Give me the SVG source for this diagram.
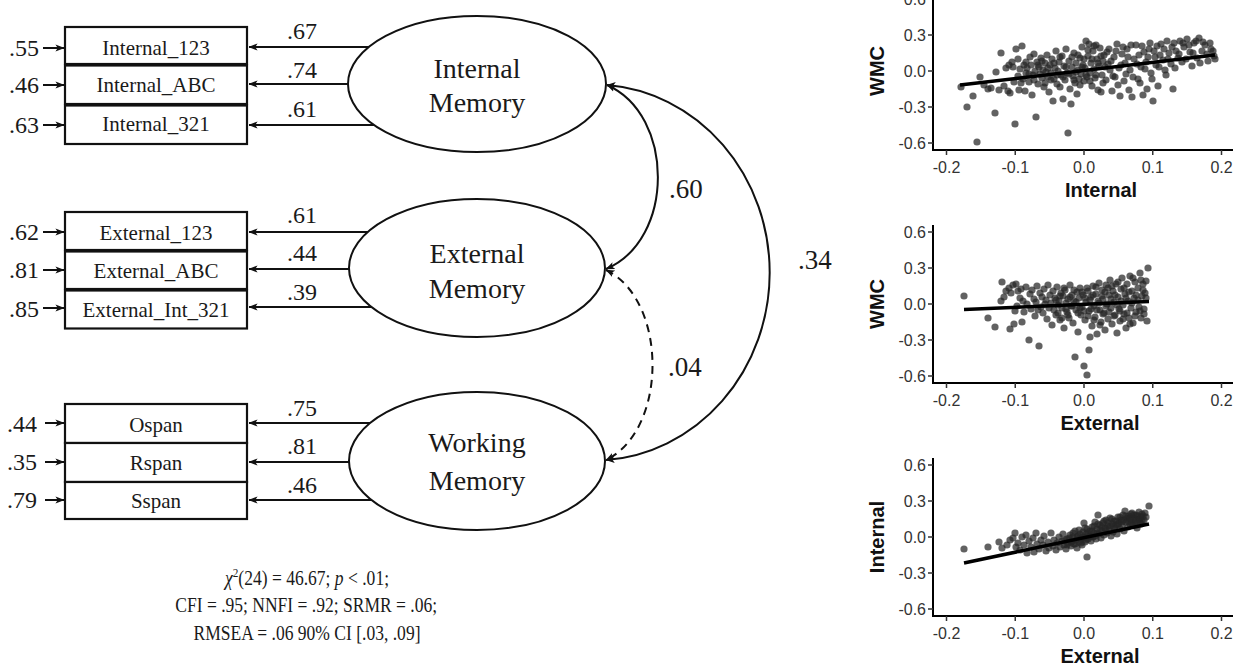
<svg xmlns="http://www.w3.org/2000/svg" width="1238" height="667" viewBox="0 0 1238 667">
<style>
.serif{font-family:"Liberation Serif","Times New Roman",serif;fill:#1a1a1a}
.box{fill:#fff;stroke:#111;stroke-width:2.2}
.lat{fill:#fff;stroke:#111;stroke-width:2}
.con{stroke:#111;stroke-width:2;fill:none}
.bl{font-size:21px;text-anchor:middle}
.co{font-size:24px;text-anchor:middle}
.er{font-size:24px}
.ll{font-size:28px;text-anchor:middle}
.cv{font-size:27px}
.ax{fill:none;stroke:#000;stroke-width:2}
.tk{fill:none;stroke:#333;stroke-width:1.5}
.tl{font-family:"Liberation Sans",Arial,sans-serif;font-size:16px;fill:#333}
.at{font-family:"Liberation Sans",Arial,sans-serif;font-size:20px;font-weight:bold;fill:#111;text-anchor:middle}
.pt circle{fill:#262626;fill-opacity:.72}
.reg{stroke:#000;stroke-width:3.5}
</style>
<defs>
<marker id="ah" viewBox="0 0 10 10" refX="9.5" refY="5" markerWidth="9" markerHeight="9" markerUnits="userSpaceOnUse" orient="auto-start-reverse">
<path d="M0,1 L10,5 L0,9 L2.5,5 z" fill="#111"/>
</marker>
</defs>

<g id="connectors">
<line class="con" x1="420" y1="47" x2="249" y2="47" marker-end="url(#ah)"/>
<line class="con" x1="420" y1="84" x2="249" y2="84" marker-end="url(#ah)"/>
<line class="con" x1="420" y1="125" x2="249" y2="125" marker-end="url(#ah)"/>
<line class="con" x1="420" y1="232" x2="249" y2="232" marker-end="url(#ah)"/>
<line class="con" x1="420" y1="269" x2="249" y2="269" marker-end="url(#ah)"/>
<line class="con" x1="420" y1="307" x2="249" y2="307" marker-end="url(#ah)"/>
<line class="con" x1="420" y1="423" x2="249" y2="423" marker-end="url(#ah)"/>
<line class="con" x1="420" y1="462" x2="249" y2="462" marker-end="url(#ah)"/>
<line class="con" x1="420" y1="500" x2="249" y2="500" marker-end="url(#ah)"/>
<line class="con" stroke-width="1.6" x1="43" y1="48" x2="64" y2="48" marker-end="url(#ah)"/>
<line class="con" stroke-width="1.6" x1="43" y1="85" x2="64" y2="85" marker-end="url(#ah)"/>
<line class="con" stroke-width="1.6" x1="43" y1="125" x2="64" y2="125" marker-end="url(#ah)"/>
<line class="con" stroke-width="1.6" x1="43" y1="232" x2="64" y2="232" marker-end="url(#ah)"/>
<line class="con" stroke-width="1.6" x1="43" y1="270" x2="64" y2="270" marker-end="url(#ah)"/>
<line class="con" stroke-width="1.6" x1="43" y1="308" x2="64" y2="308" marker-end="url(#ah)"/>
<line class="con" stroke-width="1.6" x1="45" y1="423" x2="64" y2="423" marker-end="url(#ah)"/>
<line class="con" stroke-width="1.6" x1="45" y1="462" x2="64" y2="462" marker-end="url(#ah)"/>
<line class="con" stroke-width="1.6" x1="45" y1="500" x2="64" y2="500" marker-end="url(#ah)"/>
<path class="con" d="M607,85 C675,115 675,240 606,269" marker-start="url(#ah)" marker-end="url(#ah)"/>
<path class="con" d="M607,85 A176 188 0 0 1 606,460" marker-start="url(#ah)" marker-end="url(#ah)"/>
<path class="con" stroke-dasharray="8,6" d="M606,270 C668,300 668,430 606,460" marker-start="url(#ah)" marker-end="url(#ah)"/>
<text class="serif co" x="302" y="39">.67</text>
<text class="serif co" x="302" y="78">.74</text>
<text class="serif co" x="302" y="117">.61</text>
<text class="serif co" x="302" y="223">.61</text>
<text class="serif co" x="302" y="261">.44</text>
<text class="serif co" x="302" y="300">.39</text>
<text class="serif co" x="302" y="416">.75</text>
<text class="serif co" x="302" y="454">.81</text>
<text class="serif co" x="302" y="493">.46</text>
<text class="serif cv" x="669" y="198">.60</text>
<text class="serif cv" x="798" y="269">.34</text>
<text class="serif cv" x="668" y="376">.04</text>
</g>

<g id="errors">
<text class="serif er" x="9" y="56">.55</text>
<text class="serif er" x="9" y="93">.46</text>
<text class="serif er" x="9" y="133">.63</text>
<text class="serif er" x="9" y="240">.62</text>
<text class="serif er" x="9" y="278">.81</text>
<text class="serif er" x="9" y="317">.85</text>
<text class="serif er" x="7" y="432">.44</text>
<text class="serif er" x="7" y="470">.35</text>
<text class="serif er" x="7" y="508">.79</text>
</g>

<g id="Internal_123"><rect class="box" x="65" y="27" width="182" height="37"/><text class="serif bl" x="156" y="55">Internal_123</text></g>
<g id="Internal_ABC"><rect class="box" x="65" y="65.5" width="182" height="38.5"/><text class="serif bl" x="156" y="92">Internal_ABC</text></g>
<g id="Internal_321"><rect class="box" x="65" y="105.5" width="182" height="38.5"/><text class="serif bl" x="156" y="131">Internal_321</text></g>

<g id="External_123"><rect class="box" x="65" y="212" width="182" height="38"/><text class="serif bl" x="156" y="240">External_123</text></g>
<g id="External_ABC"><rect class="box" x="65" y="251.5" width="182" height="37.5"/><text class="serif bl" x="156" y="278">External_ABC</text></g>
<g id="External_Int_321"><rect class="box" x="65" y="290.5" width="182" height="38"/><text class="serif bl" x="156" y="317">External_Int_321</text></g>

<g id="Ospan"><rect class="box" x="65" y="404" width="182" height="39"/><text class="serif bl" x="156" y="432">Ospan</text></g>
<g id="Rspan"><rect class="box" x="65" y="443" width="182" height="39"/><text class="serif bl" x="156" y="470">Rspan</text></g>
<g id="Sspan"><rect class="box" x="65" y="482" width="182" height="37"/><text class="serif bl" x="156" y="508">Sspan</text></g>

<g id="InternalMemory"><ellipse class="lat" cx="477" cy="84" rx="129" ry="68"/><text class="serif ll" x="477" y="78">Internal</text><text class="serif ll" x="477" y="112">Memory</text></g>
<g id="ExternalMemory"><ellipse class="lat" cx="477" cy="268" rx="128" ry="69"/><text class="serif ll" x="477" y="263">External</text><text class="serif ll" x="477" y="298">Memory</text></g>
<g id="WorkingMemory"><ellipse class="lat" cx="477" cy="461" rx="128" ry="69"/><text class="serif ll" x="477" y="452">Working</text><text class="serif ll" x="477" y="490">Memory</text></g>

<g id="fit" class="serif" font-size="21" text-anchor="middle" transform="translate(307,0) scale(0.835,1)">
<text x="0" y="585"><tspan font-style="italic">χ</tspan><tspan font-size="13.5" dy="-8">2</tspan><tspan dy="8">(24) = 46.67; </tspan><tspan font-style="italic">p</tspan> &lt; .01;</text>
<text x="-1" y="612">CFI = .95; NNFI = .92; SRMR = .06;</text>
<text x="0" y="640">RMSEA = .06 90% CI [.03, .09]</text>
</g>

<g id="plot1" transform="translate(1084,71)">
<path class="ax" d="M-151,-79 V79 H149"/>
<path class="tk" d="M-151,-72h-5M-151,-36h-5M-151,0h-5M-151,36h-5M-151,72h-5M-137.5,79v5M-68.75,79v5M0,79v5M68.75,79v5M137.5,79v5"/>
<g class="tl" text-anchor="end"><text x="-158" y="-66.5">0.6</text><text x="-158" y="-30.5">0.3</text><text x="-158" y="5.5">0.0</text><text x="-158" y="41.5">-0.3</text><text x="-158" y="77.5">-0.6</text></g>
<g class="tl" text-anchor="middle"><text x="-137.5" y="102">-0.2</text><text x="-68.75" y="102">-0.1</text><text x="0" y="102">0.0</text><text x="68.75" y="102">0.1</text><text x="137.5" y="102">0.2</text></g>
<text class="at" x="17" y="126">Internal</text>
<text class="at" transform="translate(-207,0) rotate(-90)" y="7">WMC</text>
<g class="pt">
<circle cx="-123" cy="16" r="3.6"/><circle cx="-117" cy="36" r="3.6"/><circle cx="-111" cy="25" r="3.6"/><circle cx="-107" cy="71" r="3.6"/><circle cx="-104" cy="6" r="3.6"/><circle cx="-100" cy="14" r="3.6"/><circle cx="-96" cy="18" r="3.6"/><circle cx="-93" cy="17" r="3.6"/><circle cx="-89" cy="42" r="3.6"/><circle cx="-88" cy="1" r="3.6"/><circle cx="-85" cy="19" r="3.6"/><circle cx="-83" cy="-18" r="3.6"/><circle cx="-80" cy="15" r="3.6"/><circle cx="-78" cy="-3" r="3.6"/><circle cx="-76" cy="20" r="3.6"/><circle cx="-75" cy="-6" r="3.6"/><circle cx="-74" cy="22" r="3.6"/><circle cx="-72" cy="-9" r="3.6"/><circle cx="-71" cy="-4" r="3.6"/><circle cx="-70" cy="11" r="3.6"/><circle cx="-69" cy="53" r="3.6"/><circle cx="-68" cy="-22" r="3.6"/><circle cx="-66" cy="5" r="3.6"/><circle cx="-65" cy="19" r="3.6"/><circle cx="-64" cy="-2" r="3.6"/><circle cx="-62" cy="-25" r="3.6"/><circle cx="-61" cy="8" r="3.6"/><circle cx="-60" cy="-6" r="3.6"/><circle cx="-59" cy="20" r="3.6"/><circle cx="-58" cy="2" r="3.6"/><circle cx="-57" cy="-3" r="3.6"/><circle cx="-55" cy="11" r="3.6"/><circle cx="-54" cy="-14" r="3.6"/><circle cx="-53" cy="-6" r="3.6"/><circle cx="-52" cy="24" r="3.6"/><circle cx="-51" cy="4" r="3.6"/><circle cx="-50" cy="-17" r="3.6"/><circle cx="-49" cy="0" r="3.6"/><circle cx="-48" cy="46" r="3.6"/><circle cx="-47" cy="-9" r="3.6"/><circle cx="-46" cy="13" r="3.6"/><circle cx="-45" cy="-4" r="3.6"/><circle cx="-44" cy="3" r="3.6"/><circle cx="-43" cy="-13" r="3.6"/><circle cx="-42" cy="7" r="3.6"/><circle cx="-41" cy="-1" r="3.6"/><circle cx="-40" cy="16" r="3.6"/><circle cx="-39" cy="-8" r="3.6"/><circle cx="-38" cy="1" r="3.6"/><circle cx="-37" cy="-16" r="3.6"/><circle cx="-36" cy="6" r="3.6"/><circle cx="-35" cy="21" r="3.6"/><circle cx="-34" cy="-6" r="3.6"/><circle cx="-33" cy="2" r="3.6"/><circle cx="-32" cy="-12" r="3.6"/><circle cx="-31" cy="30" r="3.6"/><circle cx="-30" cy="8" r="3.6"/><circle cx="-29" cy="-3" r="3.6"/><circle cx="-28" cy="-20" r="3.6"/><circle cx="-27" cy="13" r="3.6"/><circle cx="-26" cy="0" r="3.6"/><circle cx="-25" cy="-9" r="3.6"/><circle cx="-24" cy="16" r="3.6"/><circle cx="-23" cy="4" r="3.6"/><circle cx="-22" cy="-15" r="3.6"/><circle cx="-21" cy="28" r="3.6"/><circle cx="-20" cy="-5" r="3.6"/><circle cx="-19" cy="9" r="3.6"/><circle cx="-18" cy="-22" r="3.6"/><circle cx="-17" cy="2" r="3.6"/><circle cx="-16" cy="62" r="3.6"/><circle cx="-15" cy="-10" r="3.6"/><circle cx="-14" cy="18" r="3.6"/><circle cx="-13" cy="33" r="3.6"/><circle cx="-12" cy="-4" r="3.6"/><circle cx="-11" cy="5" r="3.6"/><circle cx="-10" cy="-18" r="3.6"/><circle cx="-9" cy="12" r="3.6"/><circle cx="-8" cy="-8" r="3.6"/><circle cx="-7" cy="23" r="3.6"/><circle cx="-6" cy="-1" r="3.6"/><circle cx="-5" cy="8" r="3.6"/><circle cx="-4" cy="-13" r="3.6"/><circle cx="-3" cy="3" r="3.6"/><circle cx="-2" cy="-24" r="3.6"/><circle cx="-1" cy="-6" r="3.6"/><circle cx="0" cy="10" r="3.6"/><circle cx="1" cy="-3" r="3.6"/><circle cx="2" cy="-30" r="3.6"/><circle cx="3" cy="6" r="3.6"/><circle cx="4" cy="-15" r="3.6"/><circle cx="5" cy="-27" r="3.6"/><circle cx="6" cy="2" r="3.6"/><circle cx="7" cy="-8" r="3.6"/><circle cx="8" cy="15" r="3.6"/><circle cx="9" cy="-20" r="3.6"/><circle cx="10" cy="-2" r="3.6"/><circle cx="11" cy="7" r="3.6"/><circle cx="12" cy="-26" r="3.6"/><circle cx="13" cy="-12" r="3.6"/><circle cx="14" cy="19" r="3.6"/><circle cx="15" cy="-5" r="3.6"/><circle cx="16" cy="-23" r="3.6"/><circle cx="17" cy="21" r="3.6"/><circle cx="18" cy="4" r="3.6"/><circle cx="19" cy="-10" r="3.6"/><circle cx="20" cy="-16" r="3.6"/><circle cx="22" cy="9" r="3.6"/><circle cx="24" cy="-7" r="3.6"/><circle cx="25" cy="-22" r="3.6"/><circle cx="26" cy="-1" r="3.6"/><circle cx="28" cy="20" r="3.6"/><circle cx="30" cy="-14" r="3.6"/><circle cx="31" cy="6" r="3.6"/><circle cx="33" cy="-27" r="3.6"/><circle cx="35" cy="-3" r="3.6"/><circle cx="36" cy="25" r="3.6"/><circle cx="38" cy="-17" r="3.6"/><circle cx="40" cy="10" r="3.6"/><circle cx="41" cy="-8" r="3.6"/><circle cx="43" cy="-22" r="3.6"/><circle cx="45" cy="19" r="3.6"/><circle cx="46" cy="-1" r="3.6"/><circle cx="48" cy="26" r="3.6"/><circle cx="50" cy="-12" r="3.6"/><circle cx="52" cy="-26" r="3.6"/><circle cx="54" cy="8" r="3.6"/><circle cx="55" cy="-16" r="3.6"/><circle cx="57" cy="-4" r="3.6"/><circle cx="59" cy="24" r="3.6"/><circle cx="60" cy="-19" r="3.6"/><circle cx="62" cy="-9" r="3.6"/><circle cx="63" cy="18" r="3.6"/><circle cx="65" cy="-22" r="3.6"/><circle cx="67" cy="2" r="3.6"/><circle cx="69" cy="30" r="3.6"/><circle cx="71" cy="-14" r="3.6"/><circle cx="73" cy="-25" r="3.6"/><circle cx="75" cy="-4" r="3.6"/><circle cx="77" cy="-27" r="3.6"/><circle cx="79" cy="-11" r="3.6"/><circle cx="81" cy="-1" r="3.6"/><circle cx="83" cy="-30" r="3.6"/><circle cx="85" cy="-18" r="3.6"/><circle cx="87" cy="-7" r="3.6"/><circle cx="89" cy="18" r="3.6"/><circle cx="90" cy="-28" r="3.6"/><circle cx="92" cy="-20" r="3.6"/><circle cx="94" cy="-13" r="3.6"/><circle cx="96" cy="-30" r="3.6"/><circle cx="98" cy="-9" r="3.6"/><circle cx="100" cy="-24" r="3.6"/><circle cx="103" cy="-32" r="3.6"/><circle cx="106" cy="-19" r="3.6"/><circle cx="108" cy="-5" r="3.6"/><circle cx="110" cy="-28" r="3.6"/><circle cx="113" cy="-13" r="3.6"/><circle cx="115" cy="-33" r="3.6"/><circle cx="118" cy="-20" r="3.6"/><circle cx="121" cy="-26" r="3.6"/><circle cx="124" cy="-10" r="3.6"/><circle cx="127" cy="-22" r="3.6"/><circle cx="130" cy="-15" r="3.6"/><circle cx="131" cy="-12" r="3.6"/>
<circle cx="-66" cy="-12" r="3.6"/><circle cx="-63" cy="12" r="3.6"/><circle cx="-58" cy="-9" r="3.6"/><circle cx="-55" cy="3" r="3.6"/><circle cx="-50" cy="9" r="3.6"/><circle cx="-46" cy="-6" r="3.6"/><circle cx="-42" cy="-10" r="3.6"/><circle cx="-39" cy="12" r="3.6"/><circle cx="-36" cy="-3" r="3.6"/><circle cx="-33" cy="9" r="3.6"/><circle cx="-30" cy="-8" r="3.6"/><circle cx="-27" cy="4" r="3.6"/><circle cx="-24" cy="-14" r="3.6"/><circle cx="-21" cy="6" r="3.6"/><circle cx="-18" cy="-4" r="3.6"/><circle cx="-15" cy="3" r="3.6"/><circle cx="-12" cy="-14" r="3.6"/><circle cx="-10" cy="9" r="3.6"/><circle cx="-8" cy="1" r="3.6"/><circle cx="-6" cy="-16" r="3.6"/><circle cx="-4" cy="14" r="3.6"/><circle cx="-2" cy="-4" r="3.6"/><circle cx="0" cy="-12" r="3.6"/><circle cx="2" cy="4" r="3.6"/><circle cx="4" cy="-21" r="3.6"/><circle cx="6" cy="10" r="3.6"/><circle cx="8" cy="-12" r="3.6"/><circle cx="10" cy="-25" r="3.6"/><circle cx="12" cy="4" r="3.6"/><circle cx="14" cy="-8" r="3.6"/><circle cx="17" cy="-15" r="3.6"/><circle cx="19" cy="12" r="3.6"/><circle cx="21" cy="-4" r="3.6"/><circle cx="23" cy="-19" r="3.6"/><circle cx="27" cy="-10" r="3.6"/><circle cx="29" cy="5" r="3.6"/><circle cx="32" cy="-20" r="3.6"/><circle cx="34" cy="14" r="3.6"/><circle cx="37" cy="-6" r="3.6"/><circle cx="39" cy="-24" r="3.6"/><circle cx="42" cy="3" r="3.6"/><circle cx="44" cy="-14" r="3.6"/><circle cx="47" cy="-26" r="3.6"/><circle cx="49" cy="6" r="3.6"/><circle cx="53" cy="-7" r="3.6"/><circle cx="56" cy="12" r="3.6"/><circle cx="58" cy="-25" r="3.6"/><circle cx="61" cy="-2" r="3.6"/><circle cx="64" cy="-14" r="3.6"/><circle cx="66" cy="-28" r="3.6"/><circle cx="68" cy="8" r="3.6"/><circle cx="70" cy="-20" r="3.6"/><circle cx="72" cy="-6" r="3.6"/><circle cx="74" cy="15" r="3.6"/><circle cx="76" cy="-16" r="3.6"/><circle cx="80" cy="-22" r="3.6"/><circle cx="82" cy="4" r="3.6"/><circle cx="84" cy="-12" r="3.6"/><circle cx="88" cy="-24" r="3.6"/><circle cx="91" cy="-3" r="3.6"/><circle cx="95" cy="-17" r="3.6"/><circle cx="99" cy="-28" r="3.6"/><circle cx="102" cy="-12" r="3.6"/><circle cx="105" cy="-26" r="3.6"/><circle cx="109" cy="-18" r="3.6"/><circle cx="112" cy="-30" r="3.6"/><circle cx="116" cy="-8" r="3.6"/><circle cx="119" cy="-29" r="3.6"/><circle cx="123" cy="-17" r="3.6"/><circle cx="126" cy="-28" r="3.6"/><circle cx="129" cy="-20" r="3.6"/>
</g>
<line class="reg" x1="-124" y1="14" x2="131" y2="-16"/>
</g>

<g id="plot2" transform="translate(1084,304)">
<path class="ax" d="M-151,-79 V79 H149"/>
<path class="tk" d="M-151,-72h-5M-151,-36h-5M-151,0h-5M-151,36h-5M-151,72h-5M-137.5,79v5M-68.75,79v5M0,79v5M68.75,79v5M137.5,79v5"/>
<g class="tl" text-anchor="end"><text x="-158" y="-66.5">0.6</text><text x="-158" y="-30.5">0.3</text><text x="-158" y="5.5">0.0</text><text x="-158" y="41.5">-0.3</text><text x="-158" y="77.5">-0.6</text></g>
<g class="tl" text-anchor="middle"><text x="-137.5" y="102">-0.2</text><text x="-68.75" y="102">-0.1</text><text x="0" y="102">0.0</text><text x="68.75" y="102">0.1</text><text x="137.5" y="102">0.2</text></g>
<text class="at" x="16" y="126">External</text>
<text class="at" transform="translate(-207,0) rotate(-90)" y="7">WMC</text>
<g class="pt">
<circle cx="-120" cy="-8" r="3.6"/><circle cx="-96" cy="14" r="3.6"/><circle cx="-89" cy="23" r="3.6"/><circle cx="-83" cy="-3" r="3.6"/><circle cx="-82" cy="-22" r="3.6"/><circle cx="-80" cy="-7" r="3.6"/><circle cx="-78" cy="-13" r="3.6"/><circle cx="-75" cy="-16" r="3.6"/><circle cx="-74" cy="25" r="3.6"/><circle cx="-73" cy="-11" r="3.6"/><circle cx="-71" cy="-19" r="3.6"/><circle cx="-70" cy="20" r="3.6"/><circle cx="-69" cy="7" r="3.6"/><circle cx="-68" cy="-20" r="3.6"/><circle cx="-67" cy="2" r="3.6"/><circle cx="-66" cy="-13" r="3.6"/><circle cx="-64" cy="-6" r="3.6"/><circle cx="-63" cy="-15" r="3.6"/><circle cx="-62" cy="18" r="3.6"/><circle cx="-61" cy="-3" r="3.6"/><circle cx="-60" cy="8" r="3.6"/><circle cx="-58" cy="-17" r="3.6"/><circle cx="-57" cy="0" r="3.6"/><circle cx="-55" cy="36" r="3.6"/><circle cx="-54" cy="-10" r="3.6"/><circle cx="-53" cy="5" r="3.6"/><circle cx="-52" cy="-14" r="3.6"/><circle cx="-50" cy="-5" r="3.6"/><circle cx="-49" cy="12" r="3.6"/><circle cx="-48" cy="-2" r="3.6"/><circle cx="-47" cy="-18" r="3.6"/><circle cx="-46" cy="6" r="3.6"/><circle cx="-45" cy="42" r="3.6"/><circle cx="-44" cy="-11" r="3.6"/><circle cx="-43" cy="3" r="3.6"/><circle cx="-42" cy="-7" r="3.6"/><circle cx="-41" cy="9" r="3.6"/><circle cx="-40" cy="-15" r="3.6"/><circle cx="-39" cy="0" r="3.6"/><circle cx="-38" cy="-4" r="3.6"/><circle cx="-37" cy="15" r="3.6"/><circle cx="-36" cy="-19" r="3.6"/><circle cx="-35" cy="4" r="3.6"/><circle cx="-34" cy="-9" r="3.6"/><circle cx="-33" cy="-1" r="3.6"/><circle cx="-32" cy="21" r="3.6"/><circle cx="-31" cy="-13" r="3.6"/><circle cx="-30" cy="6" r="3.6"/><circle cx="-29" cy="-6" r="3.6"/><circle cx="-28" cy="11" r="3.6"/><circle cx="-27" cy="-17" r="3.6"/><circle cx="-26" cy="1" r="3.6"/><circle cx="-25" cy="-3" r="3.6"/><circle cx="-24" cy="16" r="3.6"/><circle cx="-23" cy="-11" r="3.6"/><circle cx="-22" cy="4" r="3.6"/><circle cx="-21" cy="-8" r="3.6"/><circle cx="-20" cy="24" r="3.6"/><circle cx="-19" cy="-14" r="3.6"/><circle cx="-18" cy="-1" r="3.6"/><circle cx="-17" cy="8" r="3.6"/><circle cx="-16" cy="-5" r="3.6"/><circle cx="-15" cy="14" r="3.6"/><circle cx="-14" cy="-19" r="3.6"/><circle cx="-13" cy="2" r="3.6"/><circle cx="-12" cy="-9" r="3.6"/><circle cx="-11" cy="19" r="3.6"/><circle cx="-10" cy="-3" r="3.6"/><circle cx="-9" cy="53" r="3.6"/><circle cx="-8" cy="6" r="3.6"/><circle cx="-7" cy="-12" r="3.6"/><circle cx="-6" cy="28" r="3.6"/><circle cx="-5" cy="-6" r="3.6"/><circle cx="-4" cy="-16" r="3.6"/><circle cx="-3" cy="11" r="3.6"/><circle cx="-2" cy="3" r="3.6"/><circle cx="-1" cy="-9" r="3.6"/><circle cx="0" cy="62" r="3.6"/><circle cx="1" cy="16" r="3.6"/><circle cx="2" cy="-2" r="3.6"/><circle cx="3" cy="71" r="3.6"/><circle cx="4" cy="-13" r="3.6"/><circle cx="5" cy="46" r="3.6"/><circle cx="5" cy="7" r="3.6"/><circle cx="6" cy="33" r="3.6"/><circle cx="7" cy="-7" r="3.6"/><circle cx="8" cy="22" r="3.6"/><circle cx="9" cy="-18" r="3.6"/><circle cx="10" cy="2" r="3.6"/><circle cx="11" cy="13" r="3.6"/><circle cx="12" cy="-10" r="3.6"/><circle cx="13" cy="30" r="3.6"/><circle cx="14" cy="-3" r="3.6"/><circle cx="15" cy="-21" r="3.6"/><circle cx="16" cy="6" r="3.6"/><circle cx="17" cy="18" r="3.6"/><circle cx="18" cy="-14" r="3.6"/><circle cx="19" cy="-5" r="3.6"/><circle cx="20" cy="9" r="3.6"/><circle cx="21" cy="26" r="3.6"/><circle cx="22" cy="-19" r="3.6"/><circle cx="23" cy="0" r="3.6"/><circle cx="24" cy="15" r="3.6"/><circle cx="25" cy="-9" r="3.6"/><circle cx="26" cy="-24" r="3.6"/><circle cx="27" cy="4" r="3.6"/><circle cx="28" cy="20" r="3.6"/><circle cx="29" cy="-13" r="3.6"/><circle cx="30" cy="-2" r="3.6"/><circle cx="31" cy="11" r="3.6"/><circle cx="32" cy="-20" r="3.6"/><circle cx="33" cy="29" r="3.6"/><circle cx="34" cy="-7" r="3.6"/><circle cx="35" cy="5" r="3.6"/><circle cx="36" cy="17" r="3.6"/><circle cx="37" cy="-15" r="3.6"/><circle cx="38" cy="-26" r="3.6"/><circle cx="39" cy="1" r="3.6"/><circle cx="40" cy="10" r="3.6"/><circle cx="41" cy="-10" r="3.6"/><circle cx="42" cy="24" r="3.6"/><circle cx="43" cy="-20" r="3.6"/><circle cx="44" cy="-3" r="3.6"/><circle cx="45" cy="14" r="3.6"/><circle cx="46" cy="-28" r="3.6"/><circle cx="47" cy="4" r="3.6"/><circle cx="48" cy="-13" r="3.6"/><circle cx="49" cy="19" r="3.6"/><circle cx="50" cy="-6" r="3.6"/><circle cx="51" cy="-22" r="3.6"/><circle cx="52" cy="8" r="3.6"/><circle cx="54" cy="-16" r="3.6"/><circle cx="55" cy="3" r="3.6"/><circle cx="56" cy="-31" r="3.6"/><circle cx="57" cy="14" r="3.6"/><circle cx="58" cy="-8" r="3.6"/><circle cx="59" cy="-20" r="3.6"/><circle cx="60" cy="5" r="3.6"/><circle cx="61" cy="-11" r="3.6"/><circle cx="62" cy="-23" r="3.6"/><circle cx="63" cy="17" r="3.6"/><circle cx="64" cy="-36" r="3.6"/>
<circle cx="-28" cy="-4" r="3.6"/><circle cx="-26" cy="9" r="3.6"/><circle cx="-24" cy="-8" r="3.6"/><circle cx="-22" cy="14" r="3.6"/><circle cx="-20" cy="-16" r="3.6"/><circle cx="-18" cy="5" r="3.6"/><circle cx="-16" cy="11" r="3.6"/><circle cx="-14" cy="-7" r="3.6"/><circle cx="-12" cy="2" r="3.6"/><circle cx="-10" cy="-14" r="3.6"/><circle cx="-8" cy="-2" r="3.6"/><circle cx="-6" cy="9" r="3.6"/><circle cx="-4" cy="4" r="3.6"/><circle cx="-2" cy="-12" r="3.6"/><circle cx="0" cy="7" r="3.6"/><circle cx="1" cy="-6" r="3.6"/><circle cx="3" cy="-16" r="3.6"/><circle cx="4" cy="12" r="3.6"/><circle cx="6" cy="-4" r="3.6"/><circle cx="7" cy="5" r="3.6"/><circle cx="9" cy="-9" r="3.6"/><circle cx="10" cy="16" r="3.6"/><circle cx="12" cy="-17" r="3.6"/><circle cx="13" cy="6" r="3.6"/><circle cx="15" cy="-1" r="3.6"/><circle cx="16" cy="21" r="3.6"/><circle cx="18" cy="-8" r="3.6"/><circle cx="19" cy="10" r="3.6"/><circle cx="21" cy="-12" r="3.6"/><circle cx="22" cy="2" r="3.6"/><circle cx="24" cy="-16" r="3.6"/><circle cx="25" cy="8" r="3.6"/><circle cx="27" cy="-5" r="3.6"/><circle cx="28" cy="-18" r="3.6"/><circle cx="30" cy="12" r="3.6"/><circle cx="31" cy="-9" r="3.6"/><circle cx="33" cy="1" r="3.6"/><circle cx="34" cy="-22" r="3.6"/><circle cx="36" cy="7" r="3.6"/><circle cx="37" cy="-3" r="3.6"/><circle cx="39" cy="15" r="3.6"/><circle cx="40" cy="-16" r="3.6"/><circle cx="42" cy="-6" r="3.6"/><circle cx="43" cy="9" r="3.6"/><circle cx="45" cy="-12" r="3.6"/><circle cx="46" cy="20" r="3.6"/><circle cx="48" cy="-1" r="3.6"/><circle cx="49" cy="-26" r="3.6"/><circle cx="51" cy="12" r="3.6"/><circle cx="52" cy="-9" r="3.6"/><circle cx="54" cy="-4" r="3.6"/><circle cx="56" cy="7" r="3.6"/><circle cx="57" cy="-24" r="3.6"/><circle cx="59" cy="-14" r="3.6"/><circle cx="60" cy="10" r="3.6"/><circle cx="62" cy="-6" r="3.6"/>
</g>
<line class="reg" x1="-120" y1="5.5" x2="65" y2="-2.5"/>
</g>

<g id="plot3" transform="translate(1084,537)">
<path class="ax" d="M-151,-79 V79 H149"/>
<path class="tk" d="M-151,-72h-5M-151,-36h-5M-151,0h-5M-151,36h-5M-151,72h-5M-137.5,79v5M-68.75,79v5M0,79v5M68.75,79v5M137.5,79v5"/>
<g class="tl" text-anchor="end"><text x="-158" y="-66.5">0.6</text><text x="-158" y="-30.5">0.3</text><text x="-158" y="5.5">0.0</text><text x="-158" y="41.5">-0.3</text><text x="-158" y="77.5">-0.6</text></g>
<g class="tl" text-anchor="middle"><text x="-137.5" y="102">-0.2</text><text x="-68.75" y="102">-0.1</text><text x="0" y="102">0.0</text><text x="68.75" y="102">0.1</text><text x="137.5" y="102">0.2</text></g>
<text class="at" x="16" y="126">External</text>
<text class="at" transform="translate(-207,0) rotate(-90)" y="7">Internal</text>
<g class="pt">
<circle cx="-120" cy="12" r="3.6"/><circle cx="-96" cy="10" r="3.6"/><circle cx="-85" cy="5" r="3.6"/><circle cx="-82" cy="11" r="3.6"/><circle cx="-77" cy="8" r="3.6"/><circle cx="-74" cy="3" r="3.6"/><circle cx="-71" cy="1" r="3.6"/><circle cx="-69" cy="-4" r="3.6"/><circle cx="-68" cy="10" r="3.6"/><circle cx="-66" cy="6" r="3.6"/><circle cx="-64" cy="13" r="3.6"/><circle cx="-62" cy="0" r="3.6"/><circle cx="-60" cy="8" r="3.6"/><circle cx="-58" cy="-2" r="3.6"/><circle cx="-57" cy="16" r="3.6"/><circle cx="-55" cy="4" r="3.6"/><circle cx="-53" cy="10" r="3.6"/><circle cx="-51" cy="1" r="3.6"/><circle cx="-50" cy="15" r="3.6"/><circle cx="-48" cy="-4" r="3.6"/><circle cx="-47" cy="7" r="3.6"/><circle cx="-45" cy="12" r="3.6"/><circle cx="-43" cy="3" r="3.6"/><circle cx="-41" cy="8" r="3.6"/><circle cx="-40" cy="-1" r="3.6"/><circle cx="-38" cy="14" r="3.6"/><circle cx="-36" cy="5" r="3.6"/><circle cx="-35" cy="11" r="3.6"/><circle cx="-33" cy="-4" r="3.6"/><circle cx="-31" cy="9" r="3.6"/><circle cx="-30" cy="3" r="3.6"/><circle cx="-28" cy="13" r="3.6"/><circle cx="-27" cy="6" r="3.6"/><circle cx="-25" cy="0" r="3.6"/><circle cx="-24" cy="10" r="3.6"/><circle cx="-22" cy="4" r="3.6"/><circle cx="-21" cy="-3" r="3.6"/><circle cx="-20" cy="8" r="3.6"/><circle cx="-18" cy="12" r="3.6"/><circle cx="-17" cy="2" r="3.6"/><circle cx="-16" cy="6" r="3.6"/><circle cx="-14" cy="-2" r="3.6"/><circle cx="-13" cy="9" r="3.6"/><circle cx="-12" cy="4" r="3.6"/><circle cx="-11" cy="0" r="3.6"/><circle cx="-10" cy="7" r="3.6"/><circle cx="-9" cy="-6" r="3.6"/><circle cx="-8" cy="3" r="3.6"/><circle cx="-7" cy="11" r="3.6"/><circle cx="-6" cy="-1" r="3.6"/><circle cx="-5" cy="5" r="3.6"/><circle cx="-4" cy="-3" r="3.6"/><circle cx="-3" cy="2" r="3.6"/><circle cx="-2" cy="8" r="3.6"/><circle cx="-1" cy="-5" r="3.6"/><circle cx="0" cy="1" r="3.6"/><circle cx="0" cy="-14" r="3.6"/><circle cx="1" cy="5" r="3.6"/><circle cx="2" cy="-3" r="3.6"/><circle cx="3" cy="20" r="3.6"/><circle cx="3" cy="-8" r="3.6"/><circle cx="4" cy="2" r="3.6"/><circle cx="5" cy="-1" r="3.6"/><circle cx="6" cy="-6" r="3.6"/><circle cx="7" cy="4" r="3.6"/><circle cx="8" cy="-10" r="3.6"/><circle cx="9" cy="0" r="3.6"/><circle cx="10" cy="-4" r="3.6"/><circle cx="11" cy="-15" r="3.6"/><circle cx="12" cy="2" r="3.6"/><circle cx="13" cy="-8" r="3.6"/><circle cx="14" cy="-22" r="3.6"/><circle cx="15" cy="-3" r="3.6"/><circle cx="16" cy="-12" r="3.6"/><circle cx="17" cy="1" r="3.6"/><circle cx="18" cy="-6" r="3.6"/><circle cx="19" cy="-14" r="3.6"/><circle cx="20" cy="-2" r="3.6"/><circle cx="21" cy="-9" r="3.6"/><circle cx="22" cy="-17" r="3.6"/><circle cx="23" cy="-4" r="3.6"/><circle cx="24" cy="-11" r="3.6"/><circle cx="25" cy="-7" r="3.6"/><circle cx="26" cy="-19" r="3.6"/><circle cx="27" cy="-1" r="3.6"/><circle cx="28" cy="-13" r="3.6"/><circle cx="29" cy="-5" r="3.6"/><circle cx="30" cy="-16" r="3.6"/><circle cx="31" cy="-9" r="3.6"/><circle cx="32" cy="-12" r="3.6"/><circle cx="33" cy="-3" r="3.6"/><circle cx="34" cy="-20" r="3.6"/><circle cx="35" cy="-14" r="3.6"/><circle cx="36" cy="-8" r="3.6"/><circle cx="37" cy="-17" r="3.6"/><circle cx="38" cy="-11" r="3.6"/><circle cx="39" cy="-22" r="3.6"/><circle cx="40" cy="-6" r="3.6"/><circle cx="41" cy="-26" r="3.6"/><circle cx="42" cy="-15" r="3.6"/><circle cx="43" cy="-19" r="3.6"/><circle cx="44" cy="-10" r="3.6"/><circle cx="45" cy="-21" r="3.6"/><circle cx="46" cy="-13" r="3.6"/><circle cx="47" cy="-17" r="3.6"/><circle cx="48" cy="-24" r="3.6"/><circle cx="49" cy="-12" r="3.6"/><circle cx="50" cy="-19" r="3.6"/><circle cx="51" cy="-15" r="3.6"/><circle cx="52" cy="-22" r="3.6"/><circle cx="53" cy="-9" r="3.6"/><circle cx="54" cy="-18" r="3.6"/><circle cx="55" cy="-25" r="3.6"/><circle cx="56" cy="-14" r="3.6"/><circle cx="57" cy="-20" r="3.6"/><circle cx="58" cy="-23" r="3.6"/><circle cx="60" cy="-17" r="3.6"/><circle cx="61" cy="-24" r="3.6"/><circle cx="62" cy="-20" r="3.6"/><circle cx="65" cy="-31" r="3.6"/>
<circle cx="-19" cy="3" r="3.6"/><circle cx="-17" cy="8" r="3.6"/><circle cx="-15" cy="1" r="3.6"/><circle cx="-13" cy="5" r="3.6"/><circle cx="-11" cy="-4" r="3.6"/><circle cx="-9" cy="7" r="3.6"/><circle cx="-7" cy="0" r="3.6"/><circle cx="-5" cy="-7" r="3.6"/><circle cx="-3" cy="6" r="3.6"/><circle cx="-1" cy="0" r="3.6"/><circle cx="1" cy="-9" r="3.6"/><circle cx="2" cy="3" r="3.6"/><circle cx="4" cy="-4" r="3.6"/><circle cx="6" cy="0" r="3.6"/><circle cx="8" cy="-6" r="3.6"/><circle cx="10" cy="-11" r="3.6"/><circle cx="11" cy="-1" r="3.6"/><circle cx="13" cy="-4" r="3.6"/><circle cx="14" cy="-13" r="3.6"/><circle cx="16" cy="-7" r="3.6"/><circle cx="18" cy="-10" r="3.6"/><circle cx="20" cy="-16" r="3.6"/><circle cx="22" cy="-8" r="3.6"/><circle cx="24" cy="-14" r="3.6"/><circle cx="26" cy="-11" r="3.6"/><circle cx="28" cy="-18" r="3.6"/><circle cx="30" cy="-10" r="3.6"/><circle cx="32" cy="-16" r="3.6"/><circle cx="34" cy="-13" r="3.6"/><circle cx="36" cy="-20" r="3.6"/><circle cx="38" cy="-15" r="3.6"/><circle cx="40" cy="-17" r="3.6"/><circle cx="42" cy="-21" r="3.6"/><circle cx="44" cy="-16" r="3.6"/><circle cx="46" cy="-19" r="3.6"/><circle cx="48" cy="-14" r="3.6"/><circle cx="50" cy="-22" r="3.6"/><circle cx="52" cy="-17" r="3.6"/><circle cx="54" cy="-21" r="3.6"/><circle cx="56" cy="-18" r="3.6"/><circle cx="58" cy="-16" r="3.6"/><circle cx="59" cy="-21" r="3.6"/><circle cx="57" cy="-13" r="3.6"/><circle cx="53" cy="-13" r="3.6"/><circle cx="47" cy="-23" r="3.6"/>
</g>
<line class="reg" x1="-120" y1="26" x2="65" y2="-13"/>
</g>
</svg>
